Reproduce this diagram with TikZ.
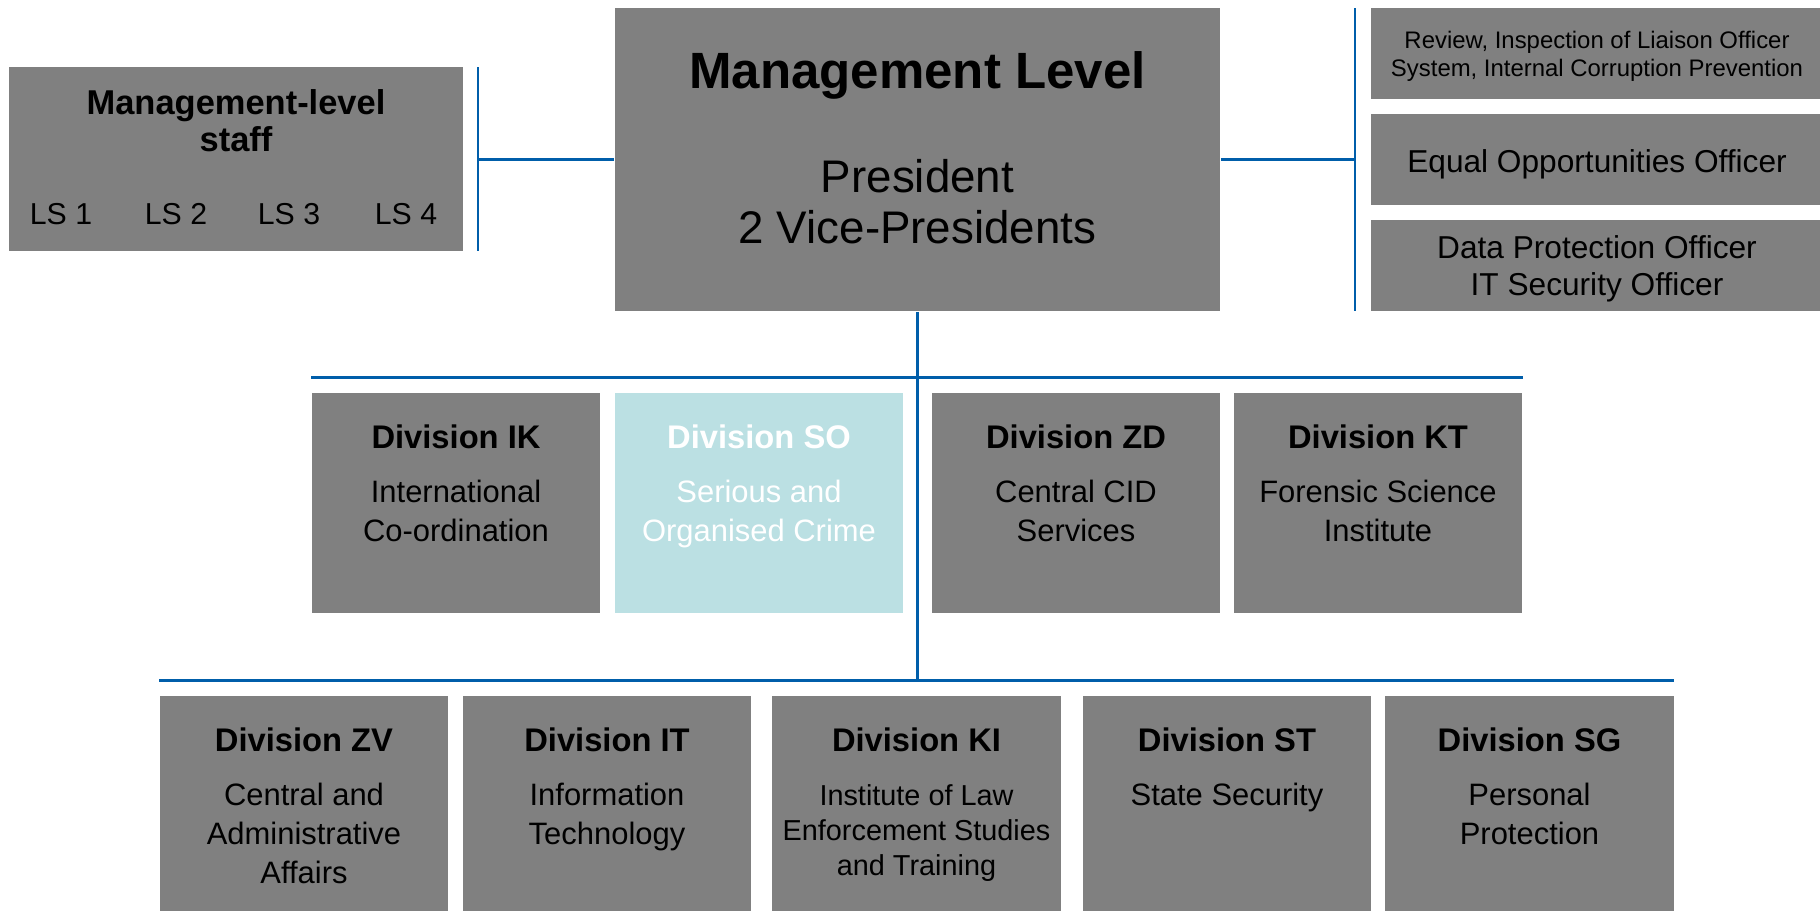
\documentclass[tikz,border=0pt]{standalone}
\usepackage{fontspec}
\setmainfont{Liberation Sans}
\usetikzlibrary{positioning}

\definecolor{boxgrey}{RGB}{128,128,128}
\definecolor{lineblue}{RGB}{0,94,170}
\definecolor{socyan}{RGB}{187,224,227}

% lines of a label, baseline on the first one
\newcommand\toplines[1]{\begin{tabular}[t]{@{}c@{}}#1\end{tabular}}

\begin{document}
\begin{tikzpicture}[x=0.01cm, y=-0.01cm,
  box/.style={fill=boxgrey, inner sep=0pt},
  divbox/.style={box, minimum width=2.88cm, minimum height=2.2cm},
  lowbox/.style={box, minimum width=2.88cm, minimum height=2.15cm},
  sidebox/.style={box, minimum width=4.49cm, minimum height=0.91cm},
  bus/.style={draw=lineblue, line width=0.8pt},
  txt/.style={anchor=base, inner sep=0pt, font=\fontsize{8.8}{11.1}\selectfont},
  smalltxt/.style={txt, font=\fontsize{8.2}{10}\selectfont},
  head/.style={txt, font=\fontsize{9.3}{11}\selectfont\bfseries}]
  \useasboundingbox (0,0) rectangle (1820,911);

  % management level
  \node[box, minimum width=6.05cm, minimum height=3.03cm] (mgmt) at (917.5,159.5) {};
  \node[txt, font=\fontsize{14.5}{16}\selectfont\bfseries] (mgmt-head) at (917.5,88) {Management Level};
  \node[txt, font=\fontsize{13}{14.5}\selectfont] (mgmt-text) at (917.5,192) {\toplines{President\\2 Vice-Presidents}};

  % staff
  \node[box, minimum width=4.54cm, minimum height=1.84cm] (staff) at (236,159) {};
  \node[txt, font=\fontsize{9.8}{10.8}\selectfont\bfseries] (staff-head) at (236,114) {\toplines{Management-level\\staff}};
  \foreach \i/\x in {1/61, 2/176, 3/289, 4/406}
    \node[txt, font=\fontsize{8.6}{10}\selectfont] (ls\i) at (\x,224) {LS \i};

  % officers
  \node[sidebox] (review) at (1595.5,53.5) {};
  \node[txt, font=\fontsize{6.8}{8}\selectfont] (review-text) at (1597,48) {\toplines{Review, Inspection of Liaison Officer\\System, Internal Corruption Prevention}};
  \node[sidebox] (equal) at (1595.5,159.5) {};
  \node[txt, font=\fontsize{9}{10.8}\selectfont] (equal-text) at (1597,172) {Equal Opportunities Officer};
  \node[sidebox] (dataprot) at (1595.5,265.5) {};
  \node[txt, font=\fontsize{9}{10.8}\selectfont] (dataprot-text) at (1597,258) {\toplines{Data Protection Officer\\IT Security Officer}};

  % divisions, first row
  \foreach \n/\x/\f/\c/\T/\B in {ik/456/boxgrey/black/{Division IK}/{International\\Co-ordination},
                                so/759/socyan/white/{Division SO}/{Serious and\\Organised Crime},
                                zd/1076/boxgrey/black/{Division ZD}/{Central CID\\Services},
                                kt/1378/boxgrey/black/{Division KT}/{Forensic Science\\Institute}} {
    \node[divbox, fill=\f] (\n) at (\x,503) {};
    \node[head, text=\c] (\n-head) at (\x,448) {\T};
    \node[txt, text=\c] (\n-text) at (\x,502) {\toplines{\B}};
  }

  % divisions, second row
  \foreach \n/\x/\s/\T/\B in {zv/304/txt/{Division ZV}/{Central and\\Administrative\\Affairs},
                             it/607/txt/{Division IT}/{Information\\Technology},
                             ki/916.5/smalltxt/{Division KI}/{Institute of Law\\Enforcement Studies\\and Training},
                             st/1227/txt/{Division ST}/{State Security},
                             sg/1529.5/txt/{Division SG}/{Personal\\Protection}} {
    \node[lowbox] (\n) at (\x,803.5) {};
    \node[head] (\n-head) at (\x,751) {\T};
    \node[\s] (\n-text) at (\x,805) {\toplines{\B}};
  }

  % lines
  \coordinate (staffbar-n) at (478,67);
  \coordinate (staffbar-s) at (478,251);
  \coordinate (sidebar-n) at (1355,8);
  \coordinate (sidebar-s) at (1355,311);
  \coordinate (bus2-w) at ([yshift=0.15cm]ik.north west);
  \coordinate (bus2-e) at ([yshift=0.15cm]kt.north east);
  \coordinate (bus3-w) at ([yshift=0.15cm]zv.north west);
  \coordinate (bus3-e) at ([yshift=0.15cm]sg.north east);

  \draw[bus] (staffbar-n) -- (staffbar-s);
  \draw[bus] (mgmt.west) -- (mgmt.west -| staffbar-n);
  \draw[bus] (sidebar-n) -- (sidebar-s);
  \draw[bus] (mgmt.east) -- (mgmt.east -| sidebar-n);
  \draw[bus] (bus2-w) -- (bus2-e);
  \draw[bus] (bus3-w) -- (bus3-e);
  \draw[bus] (mgmt.south) -- (mgmt.south |- bus3-w);
\end{tikzpicture}
\end{document}
